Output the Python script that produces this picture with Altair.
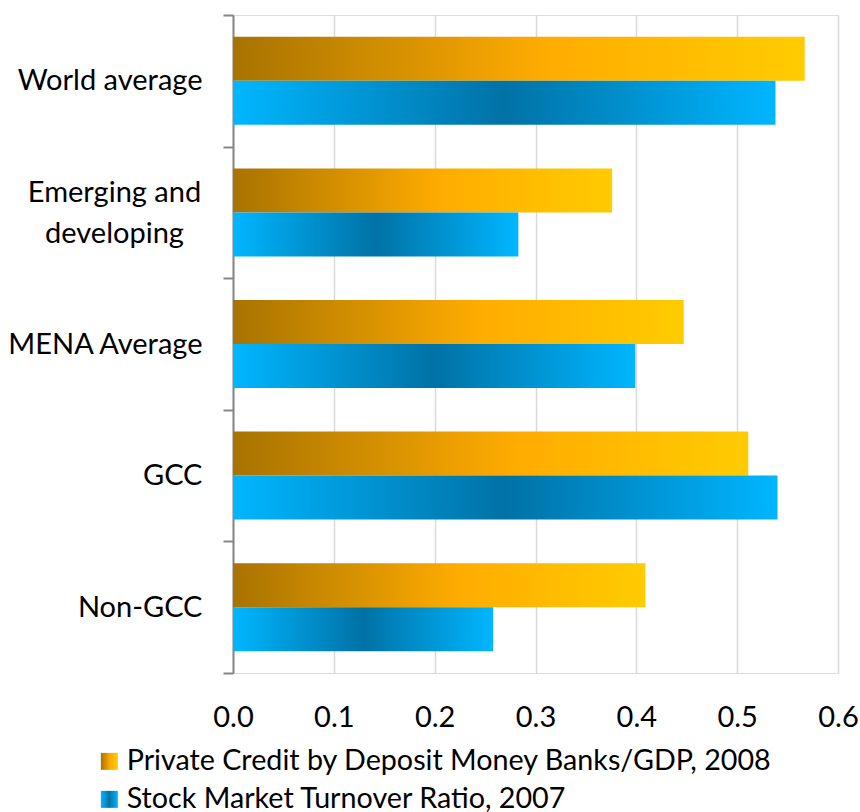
import altair as alt
import pandas as pd

categories = ["World average", "Emerging and developing", "MENA Average", "GCC", "Non-GCC"]
series_names = ["Private Credit by Deposit Money Banks/GDP, 2008", "Stock Market Turnover Ratio, 2007"]
private_credit = [0.567, 0.376, 0.447, 0.511, 0.409]
turnover = [0.538, 0.283, 0.399, 0.540, 0.258]
x_ticks = [0.0, 0.1, 0.2, 0.3, 0.4, 0.5, 0.6]

rows = []
for c, a, b in zip(categories, private_credit, turnover):
    rows.append({"category": c, "series": series_names[0], "value": a})
    rows.append({"category": c, "series": series_names[1], "value": b})
df = pd.DataFrame(rows)

grad_orange = (
    "{gradient:'linear', x1:0, y1:0, x2:1, y2:0, stops:["
    "{offset:0, color:'#A87300'}, {offset:0.55, color:'#FFAC00'}, {offset:1, color:'#FFCC00'}]}"
)
grad_blue = (
    "{gradient:'linear', x1:0, y1:0, x2:1, y2:0, stops:["
    "{offset:0, color:'#00B6FF'}, {offset:0.5, color:'#0072A6'}, {offset:1, color:'#00B6FF'}]}"
)

two_line = "datum.value == 'Emerging and developing'"

chart = alt.Chart(df).mark_bar().encode(
    y=alt.Y(
        "category:N",
        sort=categories,
        scale=alt.Scale(paddingInner=0, paddingOuter=0),
        axis=alt.Axis(
            title=None,
            labelFontSize=29,
            labelColor="#000000",
            labelAlign={"condition": {"test": two_line, "value": "center"}, "value": "right"},
            labelPadding={"condition": {"test": two_line, "value": 109}, "value": 21},
            labelOffset={"condition": {"test": two_line, "value": -20}, "value": 0},
            labelLineHeight=41,
            labelLimit=400,
            labelExpr=two_line + " ? ['Emerging and', 'developing'] : datum.label",
            tickBand="extent",
            tickSize=10,
            tickColor="#868686",
            tickWidth=2,
            domainColor="#868686",
            domainWidth=2,
            grid=False,
        ),
    ),
    yOffset=alt.YOffset("series:N", sort=series_names, scale=alt.Scale(paddingInner=0, paddingOuter=0.495)),
    x=alt.X(
        "value:Q",
        scale=alt.Scale(domain=[0, 0.6], nice=False),
        axis=alt.Axis(
            title=None,
            values=x_ticks,
            format=".1f",
            labelFontSize=29,
            labelColor="#000000",
            labelPadding=30,
            labelFlush=False,
            labelOverlap=False,
            domain=False,
            ticks=False,
            grid=True,
            gridColor="#D9D9D9",
            gridWidth=1.5,
        ),
    ),
    color=alt.Color(
        "series:N",
        sort=series_names,
        scale=alt.Scale(domain=series_names, range=[alt.ExprRef(grad_orange), alt.ExprRef(grad_blue)]),
        legend=alt.Legend(
            title=None,
            orient="none",
            legendX=-138,
            legendY=732,
            direction="vertical",
            symbolType="square",
            symbolSize=289,
            symbolStrokeWidth=0,
            labelFontSize=28.7,
            labelColor="#000000",
            labelLimit=800,
            rowPadding=8,
            labelOffset=3,
        ),
    ),
).properties(
    width=605,
    height=658,
    autosize=alt.AutoSizeParams(type="none"),
    padding={"left": 233, "top": 15, "right": 22, "bottom": 139},
).configure_view(stroke=None).configure(font="Lato")

chart.save("out.html", embed_options={"renderer": "svg", "actions": False})
